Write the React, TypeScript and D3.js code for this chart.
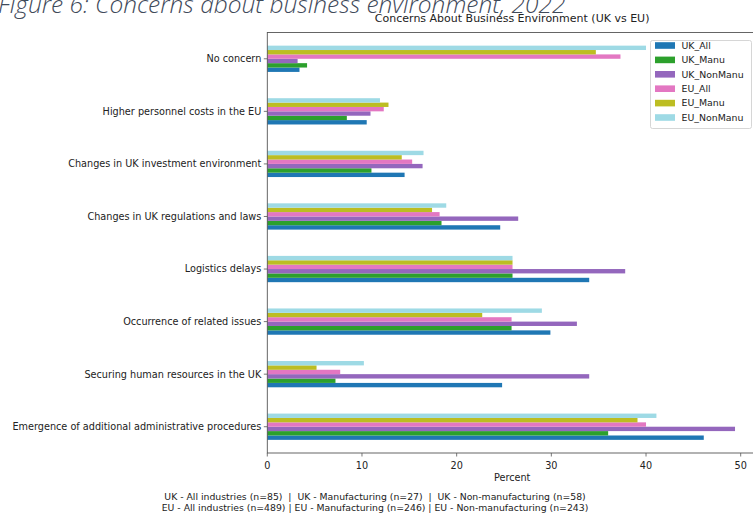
import React from "react";
import * as d3 from "d3";

const categories = [
  "No concern",
  "Higher personnel costs in the EU",
  "Changes in UK investment environment",
  "Changes in UK regulations and laws",
  "Logistics delays",
  "Occurrence of related issues",
  "Securing human resources in the UK",
  "Emergence of additional administrative procedures",
];

const seriesNames = ["UK_All", "UK_Manu", "UK_NonManu", "EU_All", "EU_Manu", "EU_NonManu"];
const seriesColors = ["#1f77b4", "#2ca02c", "#9467bd", "#e377c2", "#bcbd22", "#9edae5"];

const ukAll = [3.4, 10.5, 14.5, 24.6, 34.0, 29.9, 24.8, 46.1];
const ukManu = [4.2, 8.4, 11.0, 18.4, 25.9, 25.8, 7.2, 36.0];
const ukNonManu = [3.2, 10.9, 16.4, 26.5, 37.8, 32.7, 34.0, 49.4];
const euAll = [37.3, 12.3, 15.3, 18.2, 25.9, 25.8, 7.7, 40.0];
const euManu = [34.7, 12.8, 14.2, 17.4, 25.9, 22.7, 5.2, 39.1];
const euNonManu = [40.0, 11.9, 16.5, 18.9, 25.9, 29.0, 10.2, 41.1];

const seriesValues = [ukAll, ukManu, ukNonManu, euAll, euManu, euNonManu];
const xTicks = [0, 10, 20, 30, 40, 50];

const figureTitle = "Figure 6: Concerns about business environment, 2022";
const chartTitle = "Concerns About Business Environment (UK vs EU)";
const xLabel = "Percent";
const footnotes = [
  "UK - All industries (n=85)  |  UK - Manufacturing (n=27)  |  UK - Non-manufacturing (n=58)",
  "EU - All industries (n=489) | EU - Manufacturing (n=246) | EU - Non-manufacturing (n=243)",
];

const W = 753;
const H = 522;
const FONT = "DejaVu Sans, sans-serif";
const FS = 9.7;

export default function App() {
  const left = 267.3;
  const top = 32.5;
  const bottom = 453;
  const x = d3.scaleLinear().domain([0, 50]).range([left, 740.7]);
  const y = d3
    .scaleBand<string>()
    .domain(categories)
    .range([top, bottom])
    .paddingInner(0.5)
    .paddingOuter(0.25);
  const inner = d3
    .scaleBand<string>()
    .domain([...seriesNames].reverse())
    .range([0, y.bandwidth()]);

  return (
    <svg
      width={W}
      height={H}
      style={{ position: "absolute", left: 0, top: 0, background: "#fff" }}
      fontFamily={FONT}
    >
      <text
        x={-2}
        y={12.5}
        fontFamily="Open Sans, sans-serif"
        fontStyle="italic"
        fontWeight={300}
        fontSize={24.5}
        fill="#3f4a5a"
      >
        {figureTitle}
      </text>
      <text x={(left + 757) / 2} y={22} textAnchor="middle" fontSize={11} fill="#222">
        {chartTitle}
      </text>

      {categories.map((c, ci) =>
        seriesNames.map((s, si) => (
          <rect
            key={c + s}
            x={x(0)}
            y={(y(c) as number) + (inner(s) as number)}
            width={x(seriesValues[si][ci]) - x(0)}
            height={inner.bandwidth()}
            fill={seriesColors[si]}
          />
        ))
      )}

      {/* frame */}
      <rect x={left} y={top} width={W + 10 - left} height={bottom - top} fill="none" stroke="#555" strokeWidth={0.9} />

      {/* y ticks */}
      {categories.map((c) => {
        const cy = (y(c) as number) + y.bandwidth() / 2;
        return (
          <g key={c}>
            <line x1={left - 3.5} x2={left} y1={cy} y2={cy} stroke="#555" strokeWidth={0.8} />
            <text x={left - 6} y={cy} dy="0.35em" textAnchor="end" fontSize={FS} fill="#222">
              {c}
            </text>
          </g>
        );
      })}

      {/* x ticks */}
      {xTicks.map((t) => (
        <g key={t}>
          <line x1={x(t)} x2={x(t)} y1={bottom} y2={bottom + 3.5} stroke="#555" strokeWidth={0.8} />
          <text x={x(t)} y={bottom + 12.5} dy="0.35em" textAnchor="middle" fontSize={FS} fill="#222">
            {t}
          </text>
        </g>
      ))}
      <text x={(left + 757) / 2} y={478} dy="0.35em" textAnchor="middle" fontSize={FS} fill="#222">
        {xLabel}
      </text>

      {/* legend */}
      <rect x={650.5} y={40.5} width={101} height={88} rx={2} fill="#fff" fillOpacity={0.9} stroke="#ccc" strokeWidth={0.8} />
      {seriesNames.map((s, i) => {
        const ly = 45.5 + i * 14.4;
        return (
          <g key={s}>
            <rect x={655} y={ly - 3.3} width={20} height={6.6} fill={seriesColors[i]} />
            <text x={681.5} y={ly} dy="0.35em" fontSize={9.4} fill="#222">
              {s}
            </text>
          </g>
        );
      })}

      {footnotes.map((f, i) => (
        <text key={i} x={375} y={497 + i * 11} dy="0.35em" textAnchor="middle" fontSize={9.3} fill="#222" style={{ whiteSpace: "pre" }}>
          {f}
        </text>
      ))}
    </svg>
  );
}
